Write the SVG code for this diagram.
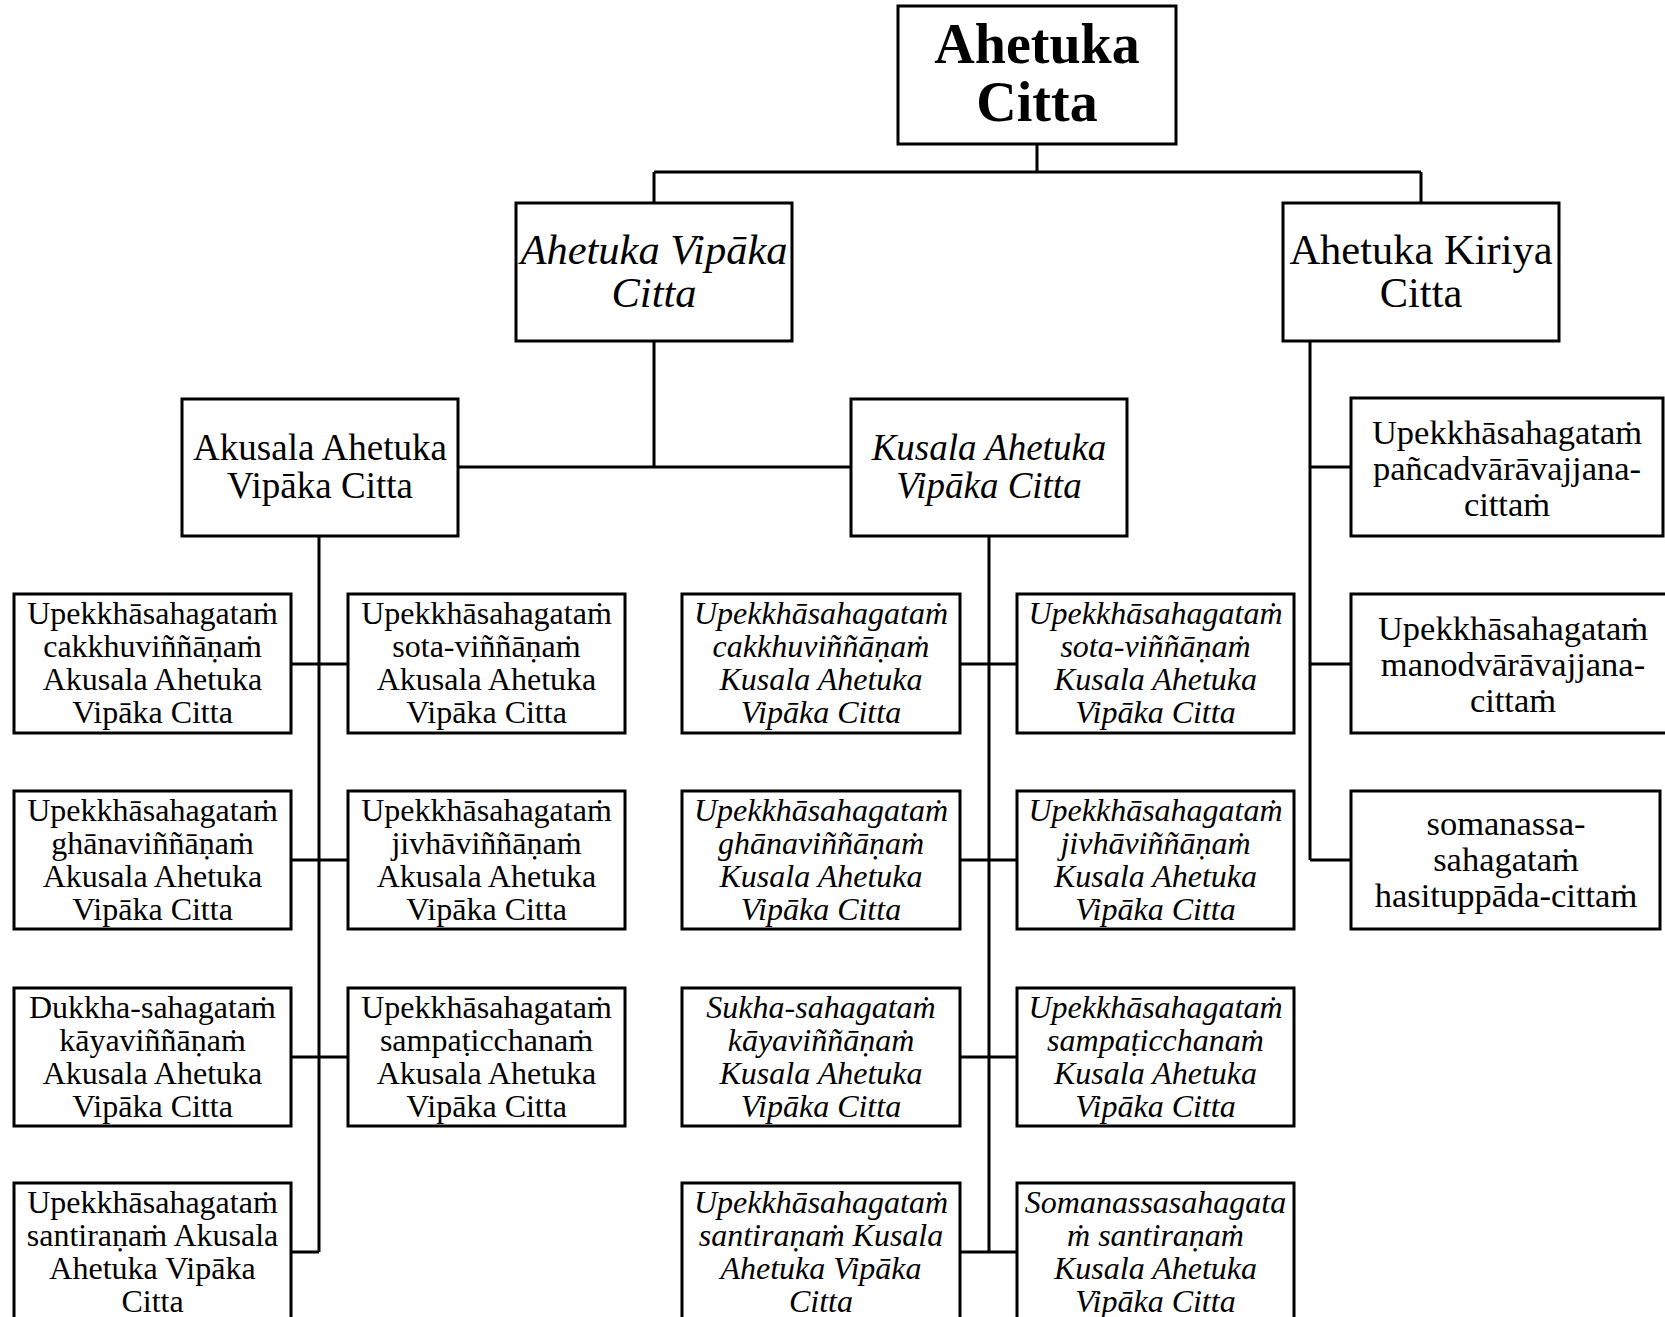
<svg xmlns="http://www.w3.org/2000/svg" width="1665" height="1317" viewBox="0 0 1665 1317">
  <style>
    .box { fill: #fff; stroke: #000; stroke-width: 3; }
    .wire { fill: none; stroke: #000; stroke-width: 3; }
    text { fill: #000; text-anchor: middle; }
    .root { font-size: 56px; font-weight: bold; }
    .l2 { font-size: 42.5px; }
    .l3 { font-size: 37px; }
    .leaf { font-size: 32px; }
    .kir { font-size: 34.5px; }
    .it { font-style: italic; }
  </style>
  <rect width="1665" height="1317" fill="#fff"/>

  <!-- tree connectors -->
  <g id="connectors" class="wire">
    <path d="M1037 144 V172 M654 172 H1421 M654 172 V203 M1421 172 V203"/>
    <path d="M654 341 V467 M458 467 H851"/>
    <path d="M319 536 V1252 M291 664 H348 M291 860 H348 M291 1057 H348 M291 1252 H319"/>
    <path d="M989 536 V1252 M960 664 H1017 M960 860 H1017 M960 1057 H1017 M960 1252 H1017"/>
    <path d="M1310 341 V860 M1310 467 H1351 M1310 664 H1351 M1310 860 H1351"/>
  </g>

  <g font-family="'Liberation Serif', 'Times New Roman', serif">
  <g id="ahetuka-citta">
    <rect class="box" x="898" y="6" width="278" height="138"/>
    <text class="root" x="1037" y="63">Ahetuka</text>
    <text class="root" x="1037" y="121">Citta</text>
  </g>

  <g id="ahetuka-vipaka">
    <rect class="box" x="516" y="203" width="276" height="138"/>
    <text class="l2 it" x="654" y="264">Ahetuka Vipāka</text>
    <text class="l2 it" x="654" y="307">Citta</text>
  </g>

  <g id="ahetuka-kiriya">
    <rect class="box" x="1283" y="203" width="276" height="138"/>
    <text class="l2" x="1421" y="264">Ahetuka Kiriya</text>
    <text class="l2" x="1421" y="307">Citta</text>
  </g>

  <g id="akusala-vipaka">
    <rect class="box" x="182" y="399" width="276" height="137"/>
    <text class="l3" x="320" y="460">Akusala Ahetuka</text>
    <text class="l3" x="320" y="498">Vipāka Citta</text>
  </g>

  <g id="kusala-vipaka">
    <rect class="box" x="851" y="399" width="276" height="137"/>
    <text class="l3 it" x="989" y="460">Kusala Ahetuka</text>
    <text class="l3 it" x="989" y="498">Vipāka Citta</text>
  </g>

  <!-- akusala leaves, left column -->
  <g id="ak-cakkhu">
    <rect class="box" x="14" y="594" width="277" height="139"/>
    <text class="leaf" x="152.5" y="624">Upekkhāsahagataṁ</text>
    <text class="leaf" x="152.5" y="657">cakkhuviññāṇaṁ</text>
    <text class="leaf" x="152.5" y="690">Akusala Ahetuka</text>
    <text class="leaf" x="152.5" y="723">Vipāka Citta</text>
  </g>
  <g id="ak-ghana">
    <rect class="box" x="14" y="791" width="277" height="138"/>
    <text class="leaf" x="152.5" y="821">Upekkhāsahagataṁ</text>
    <text class="leaf" x="152.5" y="854">ghānaviññāṇaṁ</text>
    <text class="leaf" x="152.5" y="887">Akusala Ahetuka</text>
    <text class="leaf" x="152.5" y="920">Vipāka Citta</text>
  </g>
  <g id="ak-kaya">
    <rect class="box" x="14" y="988" width="277" height="138"/>
    <text class="leaf" x="152.5" y="1018">Dukkha-sahagataṁ</text>
    <text class="leaf" x="152.5" y="1051">kāyaviññāṇaṁ</text>
    <text class="leaf" x="152.5" y="1084">Akusala Ahetuka</text>
    <text class="leaf" x="152.5" y="1117">Vipāka Citta</text>
  </g>
  <g id="ak-santirana">
    <rect class="box" x="14" y="1183" width="277" height="140"/>
    <text class="leaf" x="152.5" y="1213">Upekkhāsahagataṁ</text>
    <text class="leaf" x="152.5" y="1246">santiraṇaṁ Akusala</text>
    <text class="leaf" x="152.5" y="1279">Ahetuka Vipāka</text>
    <text class="leaf" x="152.5" y="1312">Citta</text>
  </g>

  <!-- akusala leaves, right column -->
  <g id="ak-sota">
    <rect class="box" x="348" y="594" width="277" height="139"/>
    <text class="leaf" x="486.5" y="624">Upekkhāsahagataṁ</text>
    <text class="leaf" x="486.5" y="657">sota-viññāṇaṁ</text>
    <text class="leaf" x="486.5" y="690">Akusala Ahetuka</text>
    <text class="leaf" x="486.5" y="723">Vipāka Citta</text>
  </g>
  <g id="ak-jivha">
    <rect class="box" x="348" y="791" width="277" height="138"/>
    <text class="leaf" x="486.5" y="821">Upekkhāsahagataṁ</text>
    <text class="leaf" x="486.5" y="854">jivhāviññāṇaṁ</text>
    <text class="leaf" x="486.5" y="887">Akusala Ahetuka</text>
    <text class="leaf" x="486.5" y="920">Vipāka Citta</text>
  </g>
  <g id="ak-sampaticchana">
    <rect class="box" x="348" y="988" width="277" height="138"/>
    <text class="leaf" x="486.5" y="1018">Upekkhāsahagataṁ</text>
    <text class="leaf" x="486.5" y="1051">sampaṭicchanaṁ</text>
    <text class="leaf" x="486.5" y="1084">Akusala Ahetuka</text>
    <text class="leaf" x="486.5" y="1117">Vipāka Citta</text>
  </g>

  <!-- kusala leaves, left column -->
  <g id="ku-cakkhu">
    <rect class="box" x="682" y="594" width="278" height="139"/>
    <text class="leaf it" x="821" y="624">Upekkhāsahagataṁ</text>
    <text class="leaf it" x="821" y="657">cakkhuviññāṇaṁ</text>
    <text class="leaf it" x="821" y="690">Kusala Ahetuka</text>
    <text class="leaf it" x="821" y="723">Vipāka Citta</text>
  </g>
  <g id="ku-ghana">
    <rect class="box" x="682" y="791" width="278" height="138"/>
    <text class="leaf it" x="821" y="821">Upekkhāsahagataṁ</text>
    <text class="leaf it" x="821" y="854">ghānaviññāṇaṁ</text>
    <text class="leaf it" x="821" y="887">Kusala Ahetuka</text>
    <text class="leaf it" x="821" y="920">Vipāka Citta</text>
  </g>
  <g id="ku-kaya">
    <rect class="box" x="682" y="988" width="278" height="138"/>
    <text class="leaf it" x="821" y="1018">Sukha-sahagataṁ</text>
    <text class="leaf it" x="821" y="1051">kāyaviññāṇaṁ</text>
    <text class="leaf it" x="821" y="1084">Kusala Ahetuka</text>
    <text class="leaf it" x="821" y="1117">Vipāka Citta</text>
  </g>
  <g id="ku-santirana-upekkha">
    <rect class="box" x="682" y="1183" width="278" height="140"/>
    <text class="leaf it" x="821" y="1213">Upekkhāsahagataṁ</text>
    <text class="leaf it" x="821" y="1246">santiraṇaṁ Kusala</text>
    <text class="leaf it" x="821" y="1279">Ahetuka Vipāka</text>
    <text class="leaf it" x="821" y="1312">Citta</text>
  </g>

  <!-- kusala leaves, right column -->
  <g id="ku-sota">
    <rect class="box" x="1017" y="594" width="277" height="139"/>
    <text class="leaf it" x="1155.5" y="624">Upekkhāsahagataṁ</text>
    <text class="leaf it" x="1155.5" y="657">sota-viññāṇaṁ</text>
    <text class="leaf it" x="1155.5" y="690">Kusala Ahetuka</text>
    <text class="leaf it" x="1155.5" y="723">Vipāka Citta</text>
  </g>
  <g id="ku-jivha">
    <rect class="box" x="1017" y="791" width="277" height="138"/>
    <text class="leaf it" x="1155.5" y="821">Upekkhāsahagataṁ</text>
    <text class="leaf it" x="1155.5" y="854">jivhāviññāṇaṁ</text>
    <text class="leaf it" x="1155.5" y="887">Kusala Ahetuka</text>
    <text class="leaf it" x="1155.5" y="920">Vipāka Citta</text>
  </g>
  <g id="ku-sampaticchana">
    <rect class="box" x="1017" y="988" width="277" height="138"/>
    <text class="leaf it" x="1155.5" y="1018">Upekkhāsahagataṁ</text>
    <text class="leaf it" x="1155.5" y="1051">sampaṭicchanaṁ</text>
    <text class="leaf it" x="1155.5" y="1084">Kusala Ahetuka</text>
    <text class="leaf it" x="1155.5" y="1117">Vipāka Citta</text>
  </g>
  <g id="ku-santirana-somanassa">
    <rect class="box" x="1017" y="1183" width="277" height="140"/>
    <text class="leaf it" x="1155.5" y="1213">Somanassasahagata</text>
    <text class="leaf it" x="1155.5" y="1246">ṁ santiraṇaṁ</text>
    <text class="leaf it" x="1155.5" y="1279">Kusala Ahetuka</text>
    <text class="leaf it" x="1155.5" y="1312">Vipāka Citta</text>
  </g>

  <!-- kiriya leaves -->
  <g id="ki-pancadvara">
    <rect class="box" x="1351" y="398" width="312" height="138"/>
    <text class="kir" x="1507" y="444">Upekkhāsahagataṁ</text>
    <text class="kir" x="1507" y="480">pañcadvārāvajjana-</text>
    <text class="kir" x="1507" y="516">cittaṁ</text>
  </g>
  <g id="ki-manodvara">
    <rect class="box" x="1351" y="594" width="330" height="139"/>
    <text class="kir" x="1513" y="640">Upekkhāsahagataṁ</text>
    <text class="kir" x="1513" y="676">manodvārāvajjana-</text>
    <text class="kir" x="1513" y="712">cittaṁ</text>
  </g>
  <g id="ki-hasituppada">
    <rect class="box" x="1351" y="791" width="309" height="138"/>
    <text class="kir" x="1506" y="835">somanassa-</text>
    <text class="kir" x="1506" y="871">sahagataṁ</text>
    <text class="kir" x="1506" y="907">hasituppāda-cittaṁ</text>
  </g>
  </g>
</svg>
